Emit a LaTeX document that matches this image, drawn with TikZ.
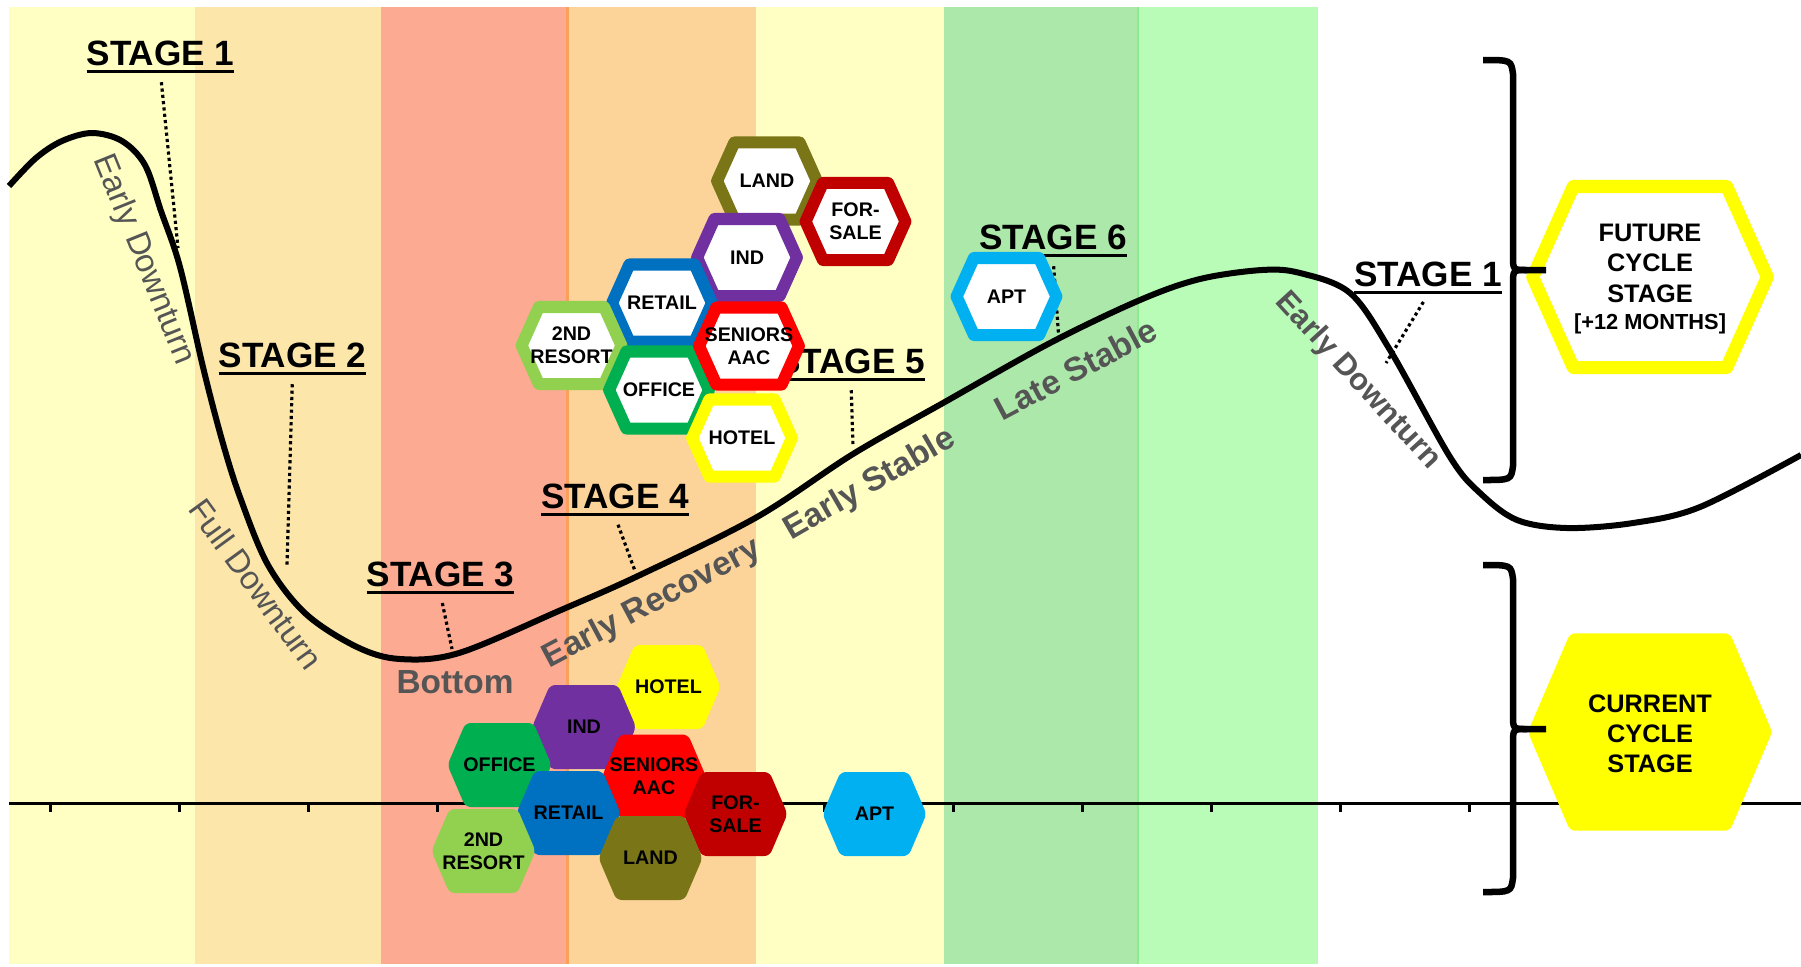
\documentclass[tikz,border=0pt]{standalone}
\usepackage{fontspec}
\setmainfont{Liberation Sans}
\usetikzlibrary{calc}

\definecolor{bandA}{RGB}{255,255,196}
\definecolor{bandB}{RGB}{252,230,170}
\definecolor{bandC}{RGB}{252,170,146}
\definecolor{bandD}{RGB}{252,212,154}
\definecolor{bandE}{RGB}{172,232,170}
\definecolor{bandF}{RGB}{184,252,184}
\definecolor{sepOrange}{RGB}{250,160,90}
\definecolor{sepGreen}{RGB}{140,236,140}
\definecolor{phasegrey}{RGB}{85,85,85}
\definecolor{landcol}{RGB}{122,117,23}
\definecolor{forsalecol}{RGB}{192,0,0}
\definecolor{indcol}{RGB}{112,48,160}
\definecolor{retailcol}{RGB}{0,112,192}
\definecolor{resortcol}{RGB}{146,208,80}
\definecolor{seniorscol}{RGB}{255,0,0}
\definecolor{officecol}{RGB}{0,176,80}
\definecolor{hotelcol}{RGB}{255,255,0}
\definecolor{aptcol}{RGB}{0,176,240}

\newsavebox{\ulbox}
\newcommand{\stageul}[1]{\sbox{\ulbox}{#1}\rlap{\vrule height -1.3pt depth 2.2pt width \wd\ulbox}\usebox{\ulbox}}

\tikzset{
  pics/hexagon/.style={code={
    \path[pic actions] (-52,0) -- (-34,-42) -- (34,-42) -- (52,0) -- (34,42) -- (-34,42) -- cycle;
  }},
  hexfill/.style={fill=#1, rounded corners=1.5pt},
  hexring/.style={draw=#1, fill=white, line width=0.12cm, line join=round, xscale=0.96, yscale=0.917},
  hexlabel/.style={font=\bfseries\fontsize{5.6}{6.6}\selectfont, align=center, inner sep=0pt},
  biglabel/.style={font=\bfseries\fontsize{7.2}{8.6}\selectfont, align=center, inner sep=0pt},
  stagelabel/.style={font=\bfseries\fontsize{10}{12}\selectfont, inner sep=0pt, anchor=base},
  phaselabel/.style={text=phasegrey, font=\bfseries\fontsize{9.5}{11}\selectfont, inner sep=0pt},
  phaselight/.style={phaselabel, font=\fontsize{9.3}{11}\selectfont},
  leader/.style={line width=0.9pt, dash pattern=on 0.9pt off 0.9pt, shorten <=2.5pt},
  bracketline/.style={line width=0.065cm},
  cycleline/.style={line width=0.06cm, line join=round},
}

\begin{document}
\begin{tikzpicture}[x=0.01cm, y=-0.01cm]
%%%%% START %%%%%
\useasboundingbox (0,0) rectangle (1801,966);
\fill[white] (0,0) rectangle (1801,966);

% phase bands
\fill[bandA] (9,7) rectangle (195,964);
\fill[bandB] (195,7) rectangle (381,964);
\fill[bandC] (381,7) rectangle (567,964);
\fill[bandD] (567,7) rectangle (756,964);
\fill[bandA] (756,7) rectangle (944,964);
\fill[bandE] (944,7) rectangle (1138,964);
\fill[bandF] (1138,7) rectangle (1318,964);
\draw[line width=0.03cm, sepOrange] (567,7) -- (567,964);
\draw[line width=0.02cm, sepGreen] (1138,7) -- (1138,964);

% time axis
\draw[line width=0.03cm] (9,803) -- (1801,803);
\foreach \t in {0,...,11}
  \draw[line width=0.03cm] ({50.5+129*\t},803) -- ({50.5+129*\t},812);

% the cycle
\draw[cycleline] plot[smooth, tension=0.55] coordinates {
  (9,186) (36,158) (62,141) (92,133) (122,141) (145,165) (161,211) (180,267)
  (203,367) (222,440) (240,497) (268,565) (306,614) (357,647) (400,659)
  (459,653) (561,610) (640,575) (757,517) (853,454) (943,403) (1050,343)
  (1140,300) (1200,279) (1262,270) (1300,273) (1350,293) (1390,350)
  (1450,457) (1480,493) (1517,520) (1567,528) (1633,523) (1700,507) (1801,455)};

\coordinate (c1) at (178,248);
\coordinate (c2) at (287,565);
\coordinate (c3) at (452,649);
\coordinate (c4) at (635,571);
\coordinate (c5) at (853,447);
\coordinate (c6) at (1059,341);
\coordinate (c7) at (1386,363);

% stages
\node[stagelabel] (st1) at (160.5,65) {\stageul{STAGE 1}};
\node[stagelabel] (st2) at (292.5,367) {\stageul{STAGE 2}};
\node[stagelabel] (st3) at (440.5,586) {\stageul{STAGE 3}};
\node[stagelabel] (st4) at (615,508) {\stageul{STAGE 4}};
\node[stagelabel] (st5) at (851,373) {\stageul{STAGE 5}};
\node[stagelabel] (st6) at (1053,249) {\stageul{STAGE 6}};
\node[stagelabel] (st7) at (1428,286) {\stageul{STAGE 1}};

\draw[leader] (st1.south) -- (c1);
\draw[leader] (st2.south) -- (c2);
\draw[leader] (st3.south) -- (c3);
\draw[leader] (st4.south) -- (c4);
\draw[leader] (st5.south) -- (c5);
\draw[leader] (st6.south) -- (c6);
\draw[leader] (st7.south) -- (c7);

% phase names along the curve
\node[phaselight, rotate=-68] (ph1) at (143.5,260) {Early Downturn};
\node[phaselight, rotate=-54] (ph2) at (256,584) {Full Downturn};
\node[phaselabel] (ph3) at (455,682) {Bottom};
\node[phaselabel, rotate=28] (ph4) at (652,604) {Early Recovery};
\node[phaselabel, rotate=30] (ph5) at (870,485) {Early Stable};
\node[phaselabel, rotate=28] (ph6) at (1076,369) {Late Stable};
\node[phaselabel, rotate=-47.5, font=\bfseries\fontsize{8.8}{10}\selectfont] (ph7) at (1358,381) {Early Downturn};

% future cycle stage (outlined cells)
\pic[hexring=landcol] at (767,181) {hexagon};
\pic[hexring=indcol] at (747,257.5) {hexagon};
\pic[hexring=retailcol] at (662,303) {hexagon};
\pic[hexring=resortcol] at (571.5,345.5) {hexagon};
\pic[hexring=officecol] at (659,390) {hexagon};
\pic[hexring=forsalecol] at (855.5,221.5) {hexagon};
\pic[hexring=seniorscol] at (749,346) {hexagon};
\pic[hexring=hotelcol] at (742,438) {hexagon};
\pic[hexring=aptcol] at (1006.5,296.5) {hexagon};

\node[hexlabel] (fland) at (767,181) {LAND};
\node[hexlabel] (find) at (747,257.5) {IND};
\node[hexlabel] (fretail) at (662,303) {RETAIL};
\node[hexlabel] (fresort) at (571.5,345.5) {2ND\\RESORT};
\node[hexlabel] (foffice) at (659,390) {OFFICE};
\node[hexlabel] (fforsale) at (855.5,221.5) {FOR-\\SALE};
\node[hexlabel] (fseniors) at (749,346) {SENIORS\\AAC};
\node[hexlabel] (fhotel) at (742,438) {HOTEL};
\node[hexlabel] (fapt) at (1006.5,296.5) {APT};

% current cycle stage (filled cells)
\pic[hexfill=hotelcol] at (668.5,687) {hexagon};
\pic[hexfill=indcol] at (584,727) {hexagon};
\pic[hexfill=officecol] at (499.5,765) {hexagon};
\pic[hexfill=seniorscol] at (654,776.5) {hexagon};
\pic[hexfill=retailcol] at (568.5,813) {hexagon};
\pic[hexfill=forsalecol] at (735.5,814) {hexagon};
\pic[hexfill=resortcol] at (483.5,851) {hexagon};
\pic[hexfill=landcol] at (650.5,858) {hexagon};
\pic[hexfill=aptcol] at (874.5,814) {hexagon};

\node[hexlabel] (chotel) at (668.5,687) {HOTEL};
\node[hexlabel] (cind) at (584,727) {IND};
\node[hexlabel] (coffice) at (499.5,765) {OFFICE};
\node[hexlabel] (cseniors) at (654,776.5) {SENIORS\\AAC};
\node[hexlabel] (cretail) at (568.5,813) {RETAIL};
\node[hexlabel] (cforsale) at (735.5,814) {FOR-\\SALE};
\node[hexlabel] (cresort) at (483.5,851) {2ND\\RESORT};
\node[hexlabel] (cland) at (650.5,858) {LAND};
\node[hexlabel] (capt) at (874.5,814) {APT};

% legend
\pic[scale=2.35, hexring=hotelcol, line width=0.13cm] at (1650,277) {hexagon};
\pic[scale=2.35, hexfill=hotelcol] at (1650,732) {hexagon};
\node[biglabel] (future) at (1650,279) {FUTURE\\CYCLE\\STAGE\\[-0.9pt]{\fontsize{6.2}{7.4}\selectfont [+12 MONTHS]}};
\node[biglabel] (current) at (1650,734) {CURRENT\\CYCLE\\STAGE};

\draw[bracketline] (1483,60) .. controls (1511,60) .. (1513,74) -- (1513,256) .. controls (1513,270) .. (1527,270) -- (1546,270);
\draw[bracketline] (1527,270) .. controls (1513,270) .. (1513,284) -- (1513,466) .. controls (1511,480) .. (1483,480);
\draw[bracketline] (1483,565) .. controls (1511,565) .. (1513,579) -- (1513,715) .. controls (1513,729) .. (1527,729) -- (1546,729);
\draw[bracketline] (1527,729) .. controls (1513,729) .. (1513,743) -- (1513,878) .. controls (1511,892) .. (1483,892);
%%%%% END %%%%%
\end{tikzpicture}
\end{document}
